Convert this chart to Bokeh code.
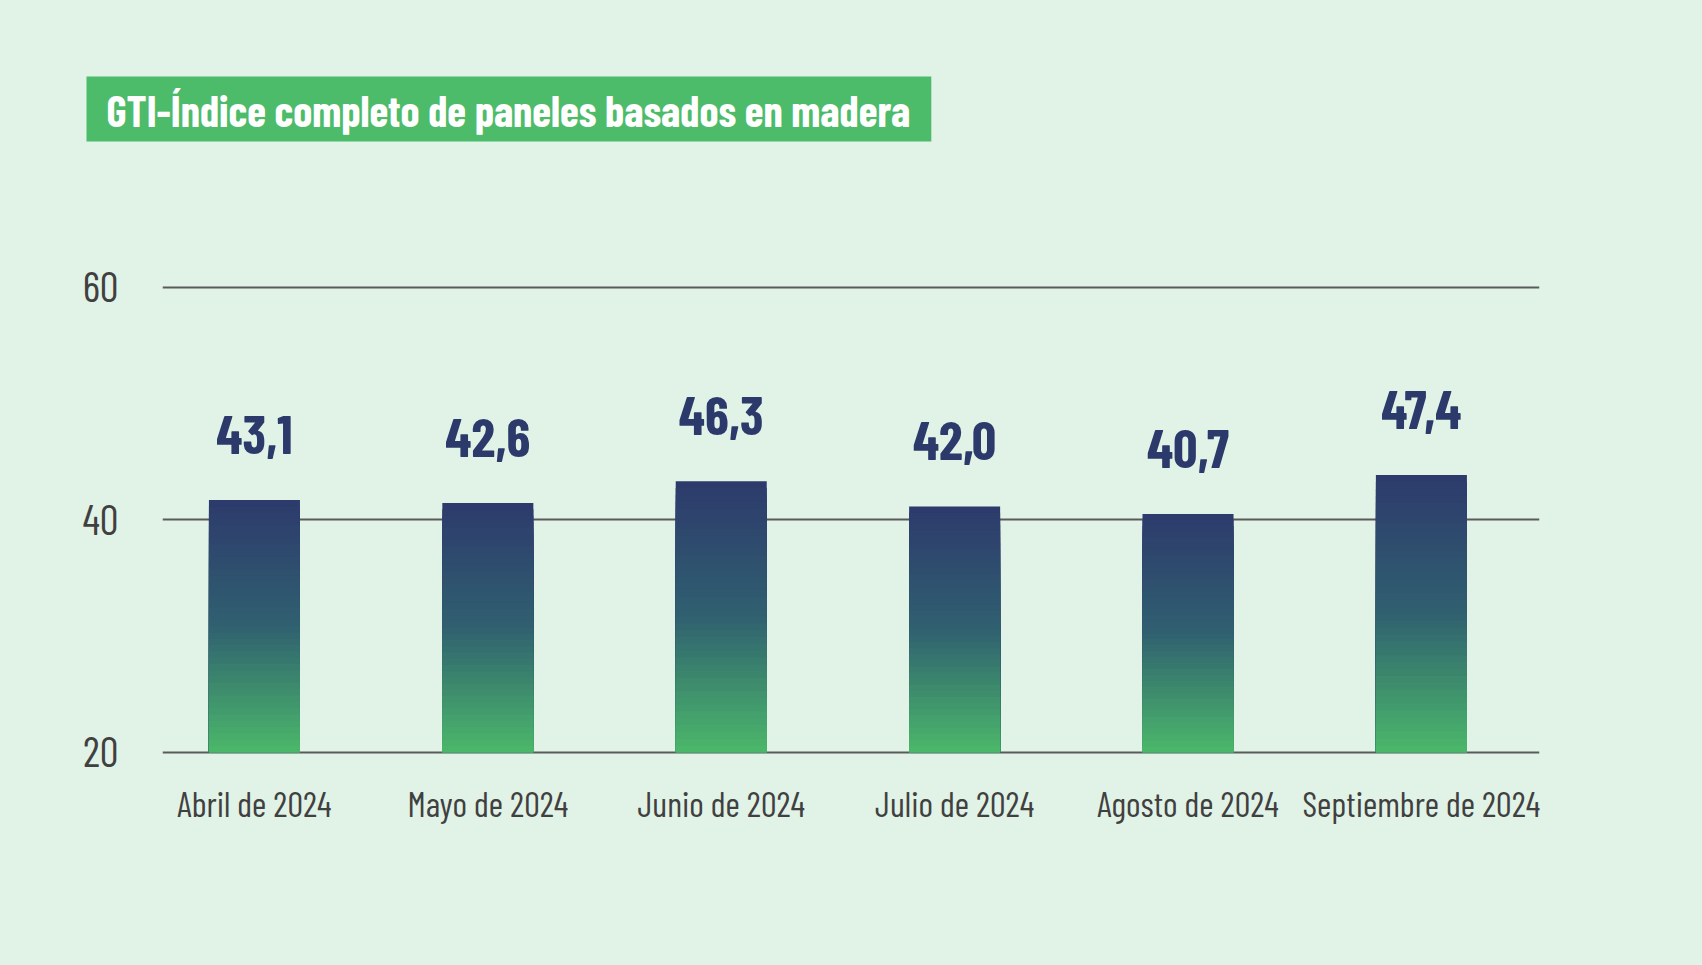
from bokeh.plotting import figure
from bokeh.models import Range1d, FixedTicker, Title, LinearAxis
from bokeh.core.properties import value
from bokeh.embed import file_html
from bokeh.resources import INLINE

# ---- data ----
meses = ["Abril de 2024", "Mayo de 2024", "Junio de 2024",
         "Julio de 2024", "Agosto de 2024", "Septiembre de 2024"]
indice = [43.1, 42.6, 46.3, 42.0, 40.7, 47.4]
ticks_y = [20, 40, 60]
titulo = "GTI-Índice completo de paneles basados en madera"

# ---- style ----
BG = "#e1f2e6"
NAVY = "#2c3a6b"
FONT = "Barlow Condensed"
stops = [(0.0, (45, 58, 108)), (0.5, (48, 96, 112)), (1.0, (75, 184, 106))]


def grad(t):
    for (t0, c0), (t1, c1) in zip(stops[:-1], stops[1:]):
        if t <= t1:
            f = (t - t0) / (t1 - t0)
            return "#%02x%02x%02x" % tuple(int(round(a + (b - a) * f)) for a, b in zip(c0, c1))
    return "#%02x%02x%02x" % stops[-1][1]


p = figure(width=1702, height=965, output_backend="svg", toolbar_location=None,
           title=None,
           x_range=Range1d(-0.394, 5.506), y_range=Range1d(19.286, 61.437),
           min_border_left=162, min_border_right=163, min_border_top=270,
           min_border_bottom=205, x_axis_location=None, y_axis_location=None)
p.extra_y_ranges = {"barras": Range1d(-1.419, 82.34)}
p.background_fill_color = BG
p.border_fill_color = BG
p.outline_line_color = None

# spacer panel (closest to the frame), then the title box above it
p.add_layout(Title(text=" ", text_font_size="1px", standoff=126,
                   text_color=BG), "above")
p.add_layout(Title(text=titulo, align="left", offset=-76, standoff=0,
                   vertical_align="bottom",
                   text_font=FONT, text_font_style="bold", text_font_size="43px",
                   text_color="white", background_fill_color="#4cbb6a",
                   padding=dict(left=20, right=21, top=7, bottom=6)), "above")

# axes
xa = LinearAxis(ticker=FixedTicker(ticks=list(range(len(meses)))))
xa.major_label_overrides = {i: m for i, m in enumerate(meses)}
xa.axis_line_color = None
xa.major_tick_line_color = None
xa.minor_tick_line_color = None
xa.major_label_text_font = FONT
xa.major_label_text_font_size = "35px"
xa.major_label_text_color = "#404040"
xa.major_label_standoff = 15
p.add_layout(xa, "below")

ya = LinearAxis(ticker=FixedTicker(ticks=ticks_y))
ya.axis_line_color = None
ya.major_tick_line_color = None
ya.minor_tick_line_color = None
ya.major_label_text_font = FONT
ya.major_label_text_font_size = "42px"
ya.major_label_text_color = "#404040"
ya.major_label_standoff = 38
p.add_layout(ya, "left")

p.xgrid.visible = False
p.ygrid.ticker = FixedTicker(ticks=ticks_y)
p.ygrid.grid_line_color = "#5a5a5a"
p.ygrid.grid_line_width = 2

# gradient bars: stacked slices from bar top (navy) down to base (green)
N = 40
xs, tops, cols = [], [], []
for j in range(N):
    for i, v in enumerate(indice):
        xs.append(i)
        tops.append(v * (N - j) / N)
        cols.append(grad((j + 0.5) / N))
p.vbar(x=xs, top=tops, bottom=0, width=0.39, fill_color=cols, line_color=None,
       y_range_name="barras")

# value labels
etiquetas = [f"{v:.1f}".replace(".", ",") for v in indice]
p.text(x=list(range(len(indice))), y=indice, text=etiquetas, y_range_name="barras",
       text_align="center", text_baseline="alphabetic", y_offset=-65,
       text_font=value(FONT), text_font_style="bold", text_font_size="54px",
       text_color=NAVY)

html = file_html(p, INLINE)
html = html.replace("<head>", "<head><style>body{background:%s;}</style>" % BG, 1)
open("out.html", "w").write(html)
